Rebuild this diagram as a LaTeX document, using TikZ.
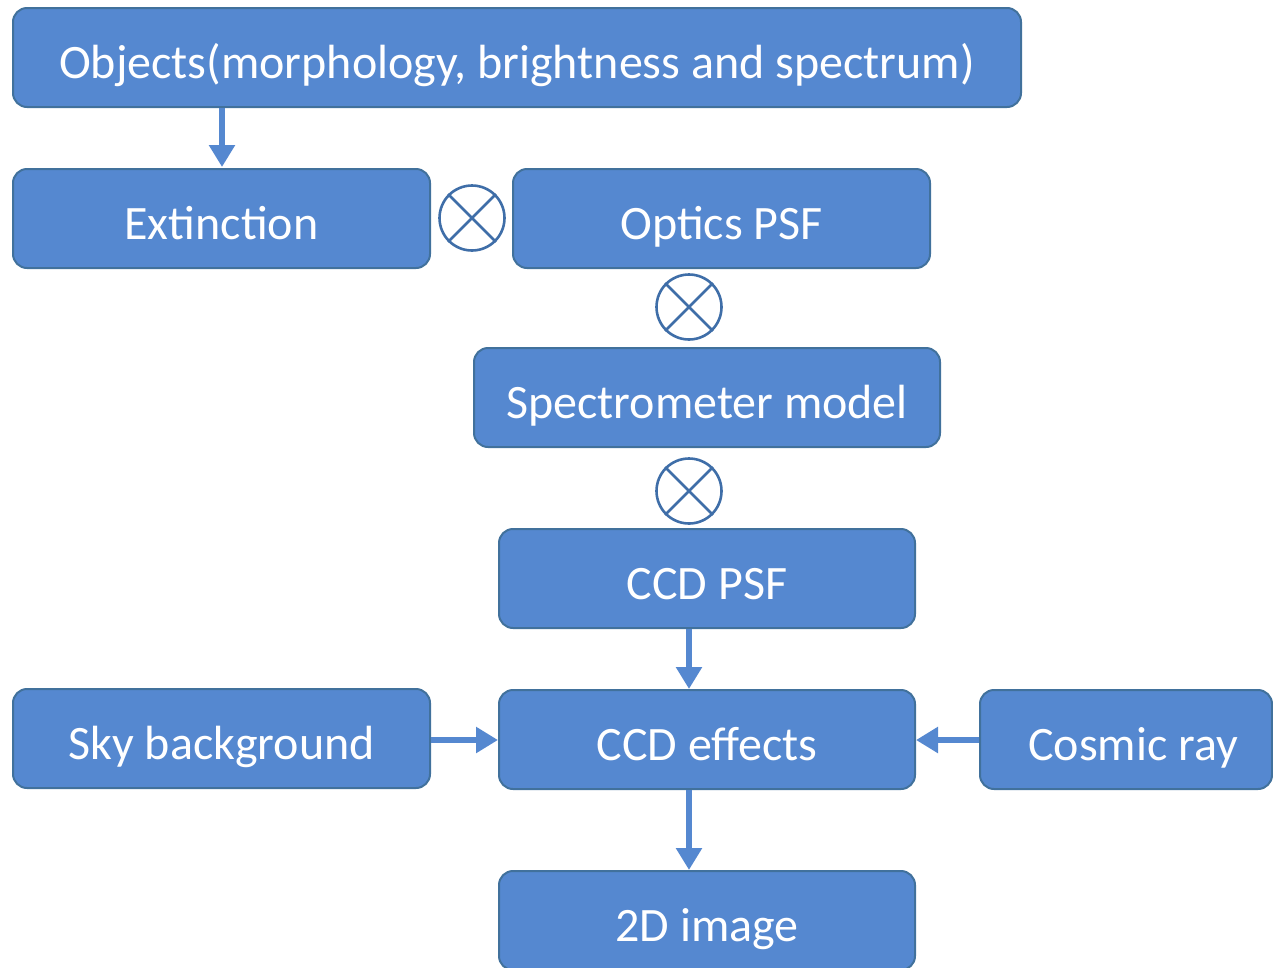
\documentclass[tikz,border=0pt]{standalone}
\usepackage{fontspec}
\setmainfont{Carlito}
\usetikzlibrary{arrows.meta}
\definecolor{boxfill}{HTML}{5588D0}
\definecolor{boxline}{HTML}{41719C}
\definecolor{arrowc}{HTML}{5588D0}
\definecolor{otc}{HTML}{3F6EA8}
\begin{document}
\begin{tikzpicture}[x=1pt,y=-1pt,
  box/.style={draw=boxline, line width=2pt, fill=boxfill, rounded corners=14pt,
    text=white, font=\fontsize{48}{56}\selectfont, inner sep=0pt, minimum height=99pt,
    text height=41pt, text depth=0pt},
  otimesnode/.style={circle, draw=otc, line width=2.6pt, minimum size=65pt, inner sep=0pt},
  flow/.style={draw=arrowc, line width=5.5pt, -{Triangle[width=25pt,length=22pt]}}]
\useasboundingbox (0,0) rectangle (1273,967);
\node[box, minimum width=1008pt] (obj) at (517,57.5) {Objects(morphology, brightness and spectrum)};
\node[box, minimum width=417pt] (ext) at (221.5,218.5) {Extinction};
\node[box, minimum width=417pt] (opt) at (721.5,218.5) {Optics PSF};
\node[box, minimum width=466pt] (spec) at (707,397.5) {Spectrometer model};
\node[box, minimum width=416pt] (ccdpsf) at (707,578.5) {CCD PSF};
\node[box, minimum width=416pt] (ccdeff) at (707,739.5) {CCD effects};
\node[box, minimum width=417pt] (sky) at (221.5,738.5) {Sky background};
\node[box, minimum width=292pt] (cosmic) at (1126,739.5) {\hspace{14pt}Cosmic ray};
\node[box, minimum width=416pt] (img) at (707,920.5) {2D image};
\node[otimesnode] (o1) at (472,218) {};
\node[otimesnode] (o2) at (689,307) {};
\node[otimesnode] (o3) at (689,491) {};
\foreach \o in {o1,o2,o3}{
  \draw[otc, line width=2.6pt] (\o.north west) -- (\o.south east);
  \draw[otc, line width=2.6pt] (\o.north east) -- (\o.south west);
}
\coordinate (a1s) at (222,108);
\coordinate (a1e) at (222,167);
\draw[flow] (a1s) -- (a1e);
\draw[flow] (ccdpsf.south -| 689,0) -- (ccdeff.north -| 689,0);
\draw[flow] (ccdeff.south -| 689,0) -- (img.north -| 689,0);
\draw[flow] (sky.east |- 0,740) -- (ccdeff.west |- 0,740);
\draw[flow] (cosmic.west |- 0,740) -- (ccdeff.east |- 0,740);
\end{tikzpicture}
\end{document}
